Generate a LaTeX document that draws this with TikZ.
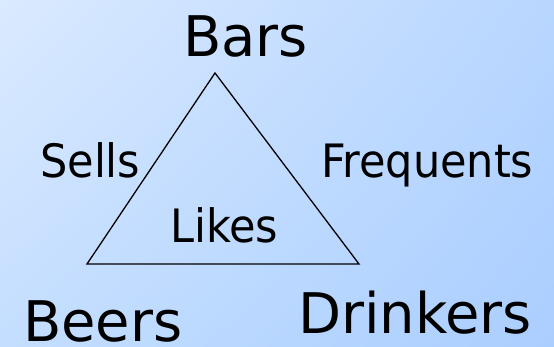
\documentclass[tikz,border=0pt]{standalone}
\usepackage{fontspec}
\setmainfont{DejaVu Sans Condensed}
\newfontfamily\fbig[FakeStretch=1.11]{DejaVu Sans Condensed}
\newfontfamily\fmid[FakeStretch=1.04]{DejaVu Sans Condensed}
\usetikzlibrary{shadings}
\definecolor{bgUL}{RGB}{218,234,255}
\definecolor{bgUR}{RGB}{184,214,255}
\definecolor{bgLL}{RGB}{196,222,255}
\definecolor{bgLR}{RGB}{170,206,255}
\begin{document}
\begin{tikzpicture}[x=1pt,y=-1pt,
  lbl/.style={inner sep=0pt,anchor=base west,text=black},
  big/.style={lbl,font=\fbig\fontsize{56}{60}\selectfont},
  mid/.style={lbl,font=\fmid\fontsize{46}{50}\selectfont},
  edge/.style={draw=black,line width=1.3pt,line join=miter}]
\shade[upper left=bgUL, upper right=bgUR, lower left=bgLL, lower right=bgLR]
  (0,0) rectangle (554,346);
\useasboundingbox (0,0) rectangle (554,346);
\coordinate (A) at (215,73);
\coordinate (L) at (87,264);
\coordinate (R) at (359,264);
\draw[edge] (A) -- (L) -- (R) -- cycle;
\node[big] (bars) at (183,56) {Bars};
\node[mid] (sells) at (40,177) {Sells};
\node[mid] (freq) at (321,177) {Frequents};
\node[mid] (likes) at (170,242) {Likes};
\node[big] (beers) at (23,341) {Beers};
\node[big] (drinkers) at (298,333) {Drinkers};
\end{tikzpicture}
\end{document}
